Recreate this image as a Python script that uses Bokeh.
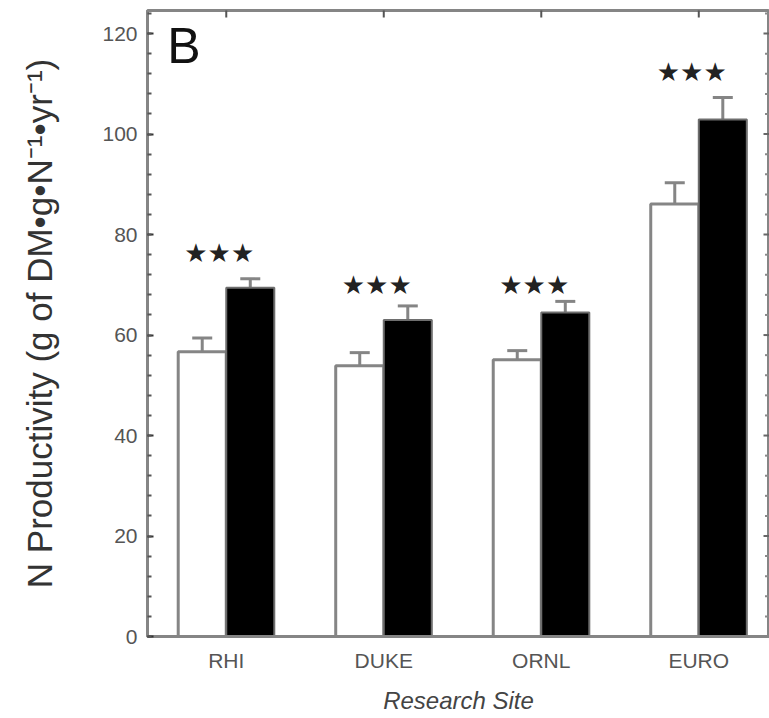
import math
from bokeh.plotting import figure
from bokeh.models import (ColumnDataSource, Whisker, TeeHead, FixedTicker,
                          SingleIntervalTicker, Range1d, Label)
from bokeh.core.properties import value
from bokeh.embed import file_html
from bokeh.resources import INLINE

sites = ["RHI", "DUKE", "ORNL", "EURO"]
pos = [1, 2, 3, 4]
ambient = [56.7, 53.9, 55.1, 86.1]
ambient_err = [2.7, 2.6, 1.8, 4.2]
elevated = [69.4, 63.0, 64.5, 102.9]
elevated_err = [1.8, 2.8, 2.2, 4.4]
star_y = [76.3, 70.0, 70.0, 112.4]
stars = ["★★★"] * 4
y_major_ticks = [0, 20, 40, 60, 80, 100, 120]
y_minor_ticks = [v for v in range(0, 125, 4) if v % 20 != 0]

X_END = 4.449
Y_END = 124.6
GREY = "#858585"
FONT = "Liberation Sans"

p = figure(width=769, height=716, output_backend="svg", toolbar_location=None,
           x_range=Range1d(0.5, X_END), y_range=Range1d(0, Y_END),
           min_border_left=147, min_border_top=10, min_border_right=0, min_border_bottom=79)
p.background_fill_color = "white"
p.border_fill_color = "white"
p.outline_line_color = GREY
p.outline_line_width = 3
p.xgrid.visible = False
p.ygrid.visible = False

bw = 0.305
src_a = ColumnDataSource(dict(x=[v - bw / 2 for v in pos], top=ambient,
                              up=[a + e for a, e in zip(ambient, ambient_err)]))
src_e = ColumnDataSource(dict(x=[v + bw / 2 for v in pos], top=elevated,
                              up=[a + e for a, e in zip(elevated, elevated_err)]))

for src in (src_a, src_e):
    w = Whisker(source=src, base="x", lower="top", upper="up", dimension="height",
                line_color=GREY, line_width=3,
                upper_head=TeeHead(size=20, line_color=GREY, line_width=3), lower_head=None)
    p.add_layout(w)

p.vbar(x="x", top="top", width=bw, bottom=0, source=src_a, fill_color="white",
       line_color=GREY, line_width=3)
p.vbar(x="x", top="top", width=bw, bottom=0, source=src_e, fill_color="black",
       line_color="#6e6e6e", line_width=2)

p.text(x=pos, y=star_y, text=stars, text_align="center", text_baseline="middle",
       text_font=value("DejaVu Sans"), text_font_size="26px", text_color="#222222",
       x_offset=-7)

p.add_layout(Label(x=0.625, y=112.0, text="B", text_font=FONT, text_font_size="50px",
                   text_color="#111111", text_baseline="bottom"))

# inward ticks on the right edge and top edge (half of each dash is clipped by the frame)
p.scatter(x=[X_END] * len(y_minor_ticks), y=y_minor_ticks, marker="dash", size=9,
          line_color="#8a8a8a", line_width=2)
p.scatter(x=[X_END] * len(y_major_ticks), y=y_major_ticks, marker="dash", size=12,
          line_color="#666666", line_width=2)
p.scatter(x=pos, y=[Y_END] * len(pos), marker="dash", size=14, angle=math.pi / 2,
          line_color="#555555", line_width=2)

# x axis
xa = p.xaxis[0]
xa.ticker = FixedTicker(ticks=pos)
xa.major_label_overrides = {i: s for i, s in zip(pos, sites)}
xa.major_tick_in = 0
xa.major_tick_out = 0
xa.minor_tick_line_color = None
xa.axis_line_color = GREY
xa.axis_line_width = 3
xa.major_label_text_font = FONT
xa.major_label_text_font_size = "21px"
xa.major_label_text_color = "#555555"
xa.major_label_standoff = 12
xa.axis_label = "Research Site"
xa.axis_label_text_font = FONT
xa.axis_label_text_font_style = "italic"
xa.axis_label_text_font_size = "24px"
xa.axis_label_text_color = "#444444"
xa.axis_label_standoff = 12

# y axis
ya = p.yaxis[0]
ya.ticker = SingleIntervalTicker(interval=20, num_minor_ticks=5)
ya.major_tick_in = 6
ya.major_tick_out = 0
ya.minor_tick_in = 4
ya.minor_tick_out = 0
ya.major_tick_line_color = "#333333"
ya.minor_tick_line_color = "#555555"
ya.major_tick_line_width = 2
ya.minor_tick_line_width = 2
ya.axis_line_color = GREY
ya.axis_line_width = 3
ya.major_label_text_font = FONT
ya.major_label_text_font_size = "21px"
ya.major_label_text_color = "#555555"
ya.major_label_standoff = 10
ya.axis_label = "N Productivity (g of DM•g•N⁻¹•yr⁻¹)"
ya.axis_label_text_font = FONT
ya.axis_label_text_font_style = "normal"
ya.axis_label_text_font_size = "35px"
ya.axis_label_text_color = "#333333"
ya.axis_label_standoff = 40

open("out.html", "w").write(file_html(p, INLINE))
